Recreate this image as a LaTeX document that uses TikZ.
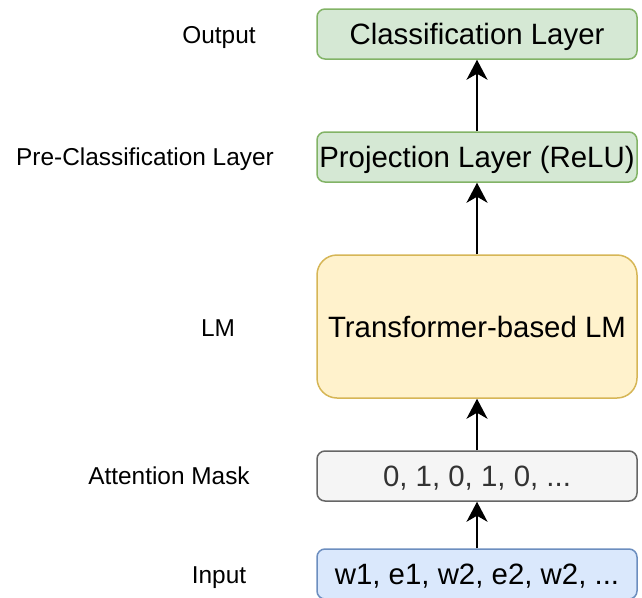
\documentclass[tikz,border=0pt]{standalone}
\usepackage{fontspec}
\setmainfont{Liberation Sans}
\usepackage{xcolor}
\usetikzlibrary{arrows.meta, positioning}

\definecolor{greenfill}{HTML}{D5E8D4}
\definecolor{greenline}{HTML}{82B366}
\definecolor{yellowfill}{HTML}{FFF2CC}
\definecolor{yellowline}{HTML}{D6B656}
\definecolor{greyfill}{HTML}{F5F5F5}
\definecolor{greyline}{HTML}{666666}
\definecolor{greytext}{HTML}{333333}
\definecolor{bluefill}{HTML}{DAE8FC}
\definecolor{blueline}{HTML}{6C8EBF}

\begin{document}
\begin{tikzpicture}[x=1pt, y=-1pt,
    layer/.style={draw, line width=1.5pt, rounded corners=8pt, minimum width=320pt,
        minimum height=50pt, inner sep=0pt, text height=21pt, text depth=0pt,
        font=\fontsize{29.4}{34}\selectfont},
    tag/.style={inner sep=0pt, text height=17.5pt, text depth=0pt,
        font=\fontsize{24.4}{28}\selectfont},
    flow/.style={line width=2pt, -{Stealth[length=20pt, width=21pt, inset=6pt]}}]
    \useasboundingbox (0,0) rectangle (642,597);

    % Layers
    \node[layer, fill=greenfill, draw=greenline] (cls) at (477,34) {Classification Layer};
    \node[layer, fill=greenfill, draw=greenline] (proj) at (477,157) {Projection Layer (ReLU)};
    \node[layer, fill=yellowfill, draw=yellowline, minimum height=143pt,
        rounded corners=20pt] (lm) at (477,326.5) {Transformer-based LM};
    \node[layer, fill=greyfill, draw=greyline, text=greytext] (mask) at (477,476) {0, 1, 0, 1, 0, ...};
    \node[layer, fill=bluefill, draw=blueline] (inp) at (477,574) {w1, e1, w2, e2, w2, ...};

    % Tags on the left
    \node[tag] (outtag) at (219,35) {Output};
    \node[tag] (projtag) at (145,157) {Pre-Classification Layer};
    \node[tag] (lmtag) at (218,328) {LM};
    \node[tag] (masktag) at (169,476) {Attention Mask};
    \node[tag] (inptag) at (219,575) {Input};

    % Flow
    \draw[flow] (inp) -- (mask);
    \draw[flow] (mask) -- (lm);
    \draw[flow] (lm) -- (proj);
    \draw[flow] (proj) -- (cls);
\end{tikzpicture}
\end{document}
